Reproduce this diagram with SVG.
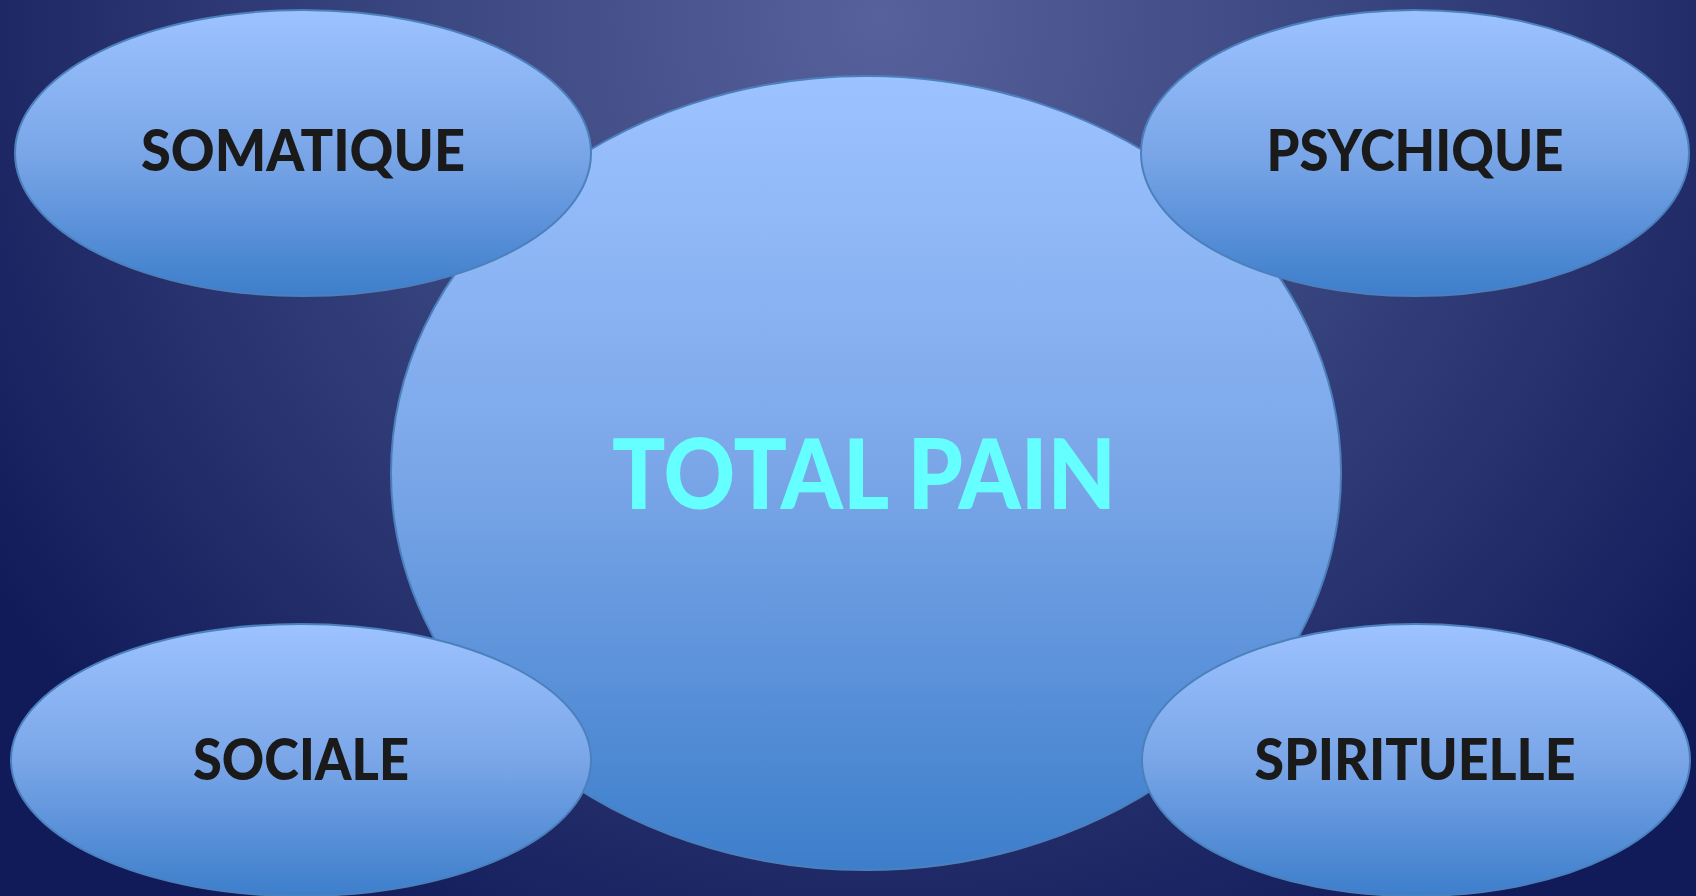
<svg xmlns="http://www.w3.org/2000/svg" width="1696" height="896" viewBox="0 0 1696 896">
<defs>
<radialGradient id="bg" cx="880" cy="20" r="1050" gradientUnits="userSpaceOnUse">
<stop offset="0" stop-color="#57619b"/>
<stop offset="0.45" stop-color="#3a4680"/>
<stop offset="1" stop-color="#111b5a"/>
</radialGradient>
<linearGradient id="fill" x1="0" y1="0" x2="0" y2="1">
<stop offset="0" stop-color="#9dc3ff"/>
<stop offset="0.5" stop-color="#7aa6e8"/>
<stop offset="1" stop-color="#3d7ecb"/>
</linearGradient>
</defs>
<style>
.node{fill:url(#fill);stroke:#4c80bd;stroke-width:2}
.lbl{font-family:Lato,"Open Sans","Liberation Sans",sans-serif;font-weight:900;font-size:57px;fill:#1a1a1a;text-anchor:middle}
.main{font-family:Lato,"Open Sans","Liberation Sans",sans-serif;font-weight:900;font-size:98px;fill:#66ffff;text-anchor:middle}
</style>
<rect width="1696" height="896" fill="url(#bg)"/>
<g id="connectors"/>
<g id="total-pain">
<ellipse class="node" cx="866" cy="473" rx="475" ry="397"/>
<text class="main" x="864" y="509" textLength="504" lengthAdjust="spacingAndGlyphs">TOTAL PAIN</text>
</g>
<g id="somatique">
<ellipse class="node" cx="303" cy="153" rx="288" ry="143"/>
<text class="lbl" x="303" y="171" textLength="324" lengthAdjust="spacingAndGlyphs">SOMATIQUE</text>
</g>
<g id="psychique">
<ellipse class="node" cx="1415" cy="153" rx="274" ry="143"/>
<text class="lbl" x="1415" y="171" textLength="297" lengthAdjust="spacingAndGlyphs">PSYCHIQUE</text>
</g>
<g id="sociale">
<ellipse class="node" cx="301" cy="760" rx="290" ry="136"/>
<text class="lbl" x="301" y="780" textLength="216" lengthAdjust="spacingAndGlyphs">SOCIALE</text>
</g>
<g id="spirituelle">
<ellipse class="node" cx="1416" cy="760" rx="274" ry="136"/>
<text class="lbl" x="1415" y="780" textLength="321" lengthAdjust="spacingAndGlyphs">SPIRITUELLE</text>
</g>
</svg>
